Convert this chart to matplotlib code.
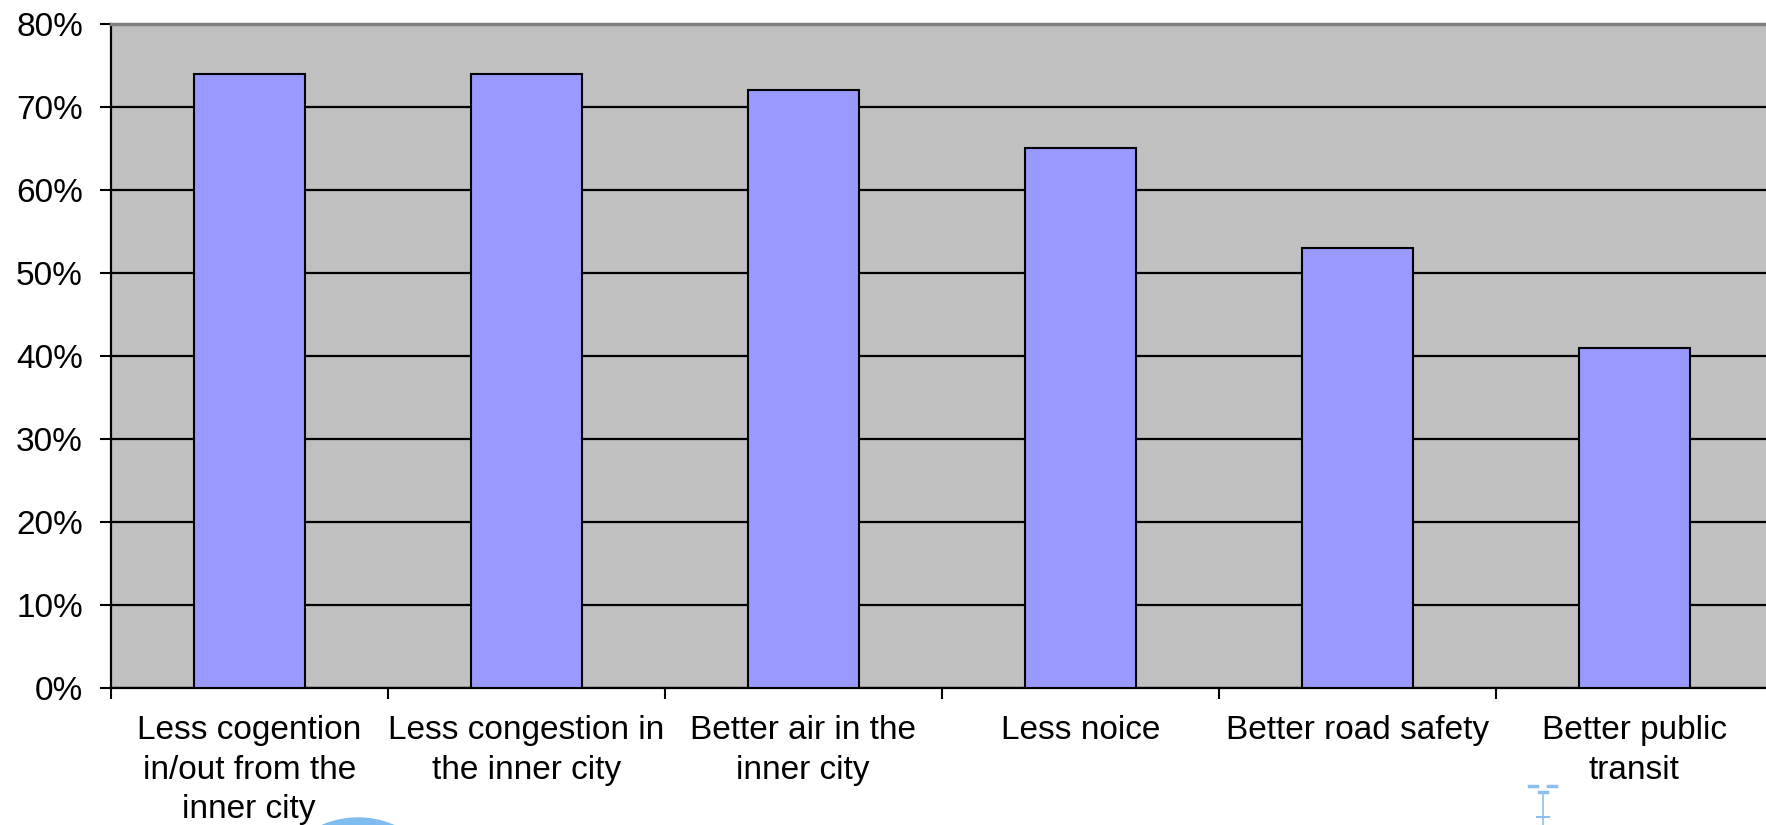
import numpy as np
import matplotlib.pyplot as plt
from matplotlib.patches import Ellipse
from matplotlib.lines import Line2D
from matplotlib.ticker import FuncFormatter

plt.rcParams['font.family'] = ['Liberation Sans', 'DejaVu Sans']

categories = [
    "Less cogention\nin/out from the\ninner city",
    "Less congestion in\nthe inner city",
    "Better air in the\ninner city",
    "Less noice",
    "Better road safety",
    "Better public\ntransit",
]
values = [0.74, 0.74, 0.72, 0.65, 0.53, 0.41]
y_ticks = [0.0, 0.1, 0.2, 0.3, 0.4, 0.5, 0.6, 0.7, 0.8]

W, H = 1766, 825
fig = plt.figure(figsize=(W / 100, H / 100), dpi=100)
ax = fig.add_axes([110.7 / W, 1 - 687.7 / H, 1662 / W, 663.7 / H])
ax.set_facecolor('#c0c0c0')

x = np.arange(len(categories))
ax.bar(x, values, width=0.4, color='#9999ff', edgecolor='black', linewidth=1.5, zorder=3)

ax.set_xlim(-0.5, len(categories) - 0.5)
ax.set_ylim(0, 0.8)
ax.set_yticks(y_ticks)
ax.yaxis.set_major_formatter(FuncFormatter(lambda v, p: f"{v * 100:.0f}%"))
ax.yaxis.grid(True, color='black', linewidth=1.6, zorder=1)
ax.set_axisbelow(True)

# ticks at category boundaries, labels at centres
ax.set_xticks(np.arange(len(categories) + 1) - 0.5)
ax.set_xticklabels([])
ax.set_xticks(x, minor=True)
ax.set_xticklabels(categories, minor=True, fontsize=24, linespacing=1.34, va='top')
ax.tick_params(axis='x', which='minor', length=0, pad=20)
ax.tick_params(axis='x', which='major', length=8, width=1.5, direction='out')
ax.tick_params(axis='y', length=8, width=1.5, pad=12, labelsize=24)

for s in ['left', 'bottom']:
    ax.spines[s].set_color('black')
    ax.spines[s].set_linewidth(1.6)
ax.spines['top'].set_color('#808080')
ax.spines['top'].set_linewidth(2.5)
ax.spines['right'].set_visible(False)

# decorative logo bits at the bottom
fig.add_artist(Ellipse((358 / W, 1 - 909 / H), 2 * 91 / W, 2 * 91 / H,
                       transform=fig.transFigure, color='#7fbdf0', zorder=0))
lc = '#8cbfec'
for cx, cy in [(1533, 786), (1552, 786), (1543, 792)]:
    fig.add_artist(Line2D([(cx - 4) / W, (cx + 4) / W], [1 - cy / H, 1 - cy / H],
                          transform=fig.transFigure, color=lc, linewidth=2.5))
fig.add_artist(Line2D([1543 / W, 1543 / W], [1 - 795 / H, 1 - 825 / H],
                      transform=fig.transFigure, color=lc, linewidth=1.2))
fig.add_artist(Line2D([1537 / W, 1549 / W], [1 - 817 / H, 1 - 817 / H],
                      transform=fig.transFigure, color=lc, linewidth=1.5))

fig.savefig('out.png', dpi=100)
